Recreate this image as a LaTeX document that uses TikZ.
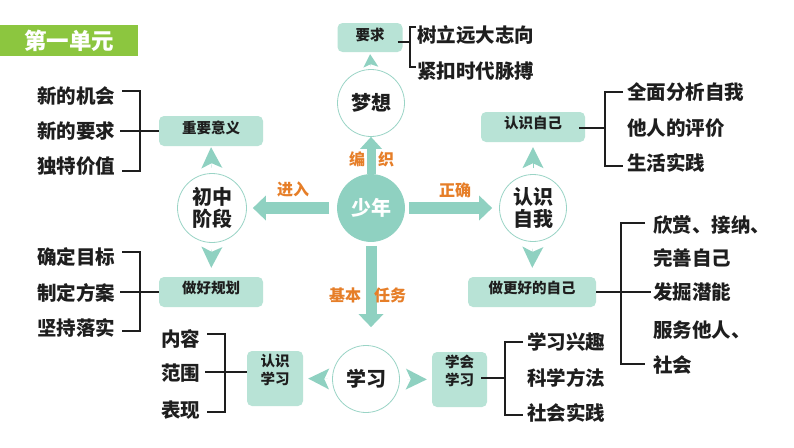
\documentclass[tikz,border=0pt]{standalone}
\usepackage{fontspec}
\setmainfont{Noto Sans CJK SC}[BoldFont={Noto Sans CJK SC Black}]
\usetikzlibrary{arrows.meta,calc}
\definecolor{mint}{HTML}{B8E3D6}
\definecolor{arr}{HTML}{8FD1C1}
\definecolor{cline}{HTML}{9AD4C6}
\definecolor{org}{HTML}{E67E28}
\definecolor{bgreen}{HTML}{8CC63F}
\definecolor{ink}{HTML}{1E1E1E}
\begin{document}
\begin{tikzpicture}[x=1pt,y=-1pt,
  mbox/.style={fill=mint, rounded corners=5pt, inner sep=0pt},
  boxtext/.style={font=\bfseries\fontsize{14.5}{18}\selectfont, text=ink, align=center, inner sep=0pt},
  wcirc/.style={circle, draw=cline, line width=0.8pt, fill=white, minimum size=67pt, inner sep=0pt, font=\bfseries\fontsize{20}{22}\selectfont, text=ink, align=center},
  item/.style={font=\bfseries\fontsize{19.5}{20}\selectfont, text=ink, inner sep=0pt, anchor=west},
  olab/.style={font=\bfseries\fontsize{16}{16}\selectfont, text=org, inner sep=0pt},
  brk/.style={draw=ink, line width=1.2pt},
  bigarr/.style={draw=arr, line width=12pt, -{Triangle[width=25pt,length=13pt,line width=0pt]}},
  tri/.style={draw=arr, line width=0.1pt, -{Stealth[width=21pt,length=21pt,inset=5pt,line width=0pt]}},
]
\fill[white] (0,0) rectangle (794,447);
\useasboundingbox (0,0) rectangle (794,447);

\node[fill=bgreen, minimum width=138pt, minimum height=31pt, inner sep=0pt, anchor=north west, text=white, font=\bfseries\fontsize{22.5}{22}\selectfont] (unit) at (0,25) {第一单元};

% circles
\node[wcirc] (meng) at (371,103) {梦想};
\node[wcirc, fill=arr, draw=arr, text=white] (shao) at (371,208) {少年};
\node[wcirc, minimum size=69pt] (chu) at (212,208) {初中\\阶段};
\node[wcirc] (rzwo) at (533,208) {认识\\自我};
\node[wcirc] (xuexi) at (366,379) {学习};

% boxes
\node[mbox, minimum width=65pt, minimum height=29pt, label={[boxtext,yshift=3pt]center:要求}] (yaoqiu) at (370,37.5) {};
\node[mbox, minimum width=104pt, minimum height=30pt, label={[boxtext,yshift=3.5pt]center:重要意义}] (zyyy) at (211,131) {};
\node[mbox, minimum width=104pt, minimum height=30pt, label={[boxtext,yshift=4pt]center:做好规划}] (zhgh) at (211,292) {};
\node[mbox, minimum width=56pt, minimum height=55pt, label={[boxtext,yshift=9pt]center:认识\\学习}] (rzxx) at (275,378.5) {};
\node[mbox, minimum width=55pt, minimum height=55pt, label={[boxtext,yshift=9pt]center:学会\\学习}] (xhxx) at (459.5,379.5) {};
\node[mbox, minimum width=104pt, minimum height=30pt, label={[boxtext,yshift=4.5pt]center:认识自己}] (rzzj) at (533,127) {};
\node[mbox, minimum width=128pt, minimum height=30pt, label={[boxtext,yshift=4pt]center:做更好的自己}] (zght) at (532,292) {};

% items
\node[item] (sl) at (417,35) {树立远大志向};
\node[item] (jk) at (417,71) {紧扣时代脉搏};
\node[item] (xjh) at (37,96) {新的机会};
\node[item] (xyq) at (37,131) {新的要求};
\node[item] (dtj) at (37,166) {独特价值};
\node[item] (qdmb) at (37,257) {确定目标};
\node[item] (zdfa) at (37,293) {制定方案};
\node[item] (jcls) at (37,328) {坚持落实};
\node[item] (nr) at (161,339) {内容};
\node[item] (fw) at (161,373) {范围};
\node[item] (bx) at (161,410) {表现};
\node[item] (xqxq) at (527,342) {学习兴趣};
\node[item] (kxff) at (527,378) {科学方法};
\node[item] (shsj) at (527,413) {社会实践};
\node[item] (qmfx) at (627,92) {全面分析自我};
\node[item] (trpj) at (627,128) {他人的评价};
\node[item] (shsj2) at (627,163) {生活实践};
\node[item] (xs) at (653,225) {欣赏、接纳、};
\node[item] (ws) at (653,258) {完善自己};
\node[item] (fj) at (653,292) {发掘潜能};
\node[item] (fw2) at (653,330) {服务他人、};
\node[item] (sh) at (653,365) {社会};

% brackets
\coordinate (b1) at (410,42);
\draw[brk] ([xshift=-5pt,yshift=-4.5pt]yaoqiu.east) -- (b1);
\draw[brk] (416,27) -| (b1) |- (416,67);
\coordinate (b2) at (140,131);
\draw[brk] (122,91) -| (b2) |- (122,171);
\draw[brk] ([xshift=5pt]xyq.east) -- (zyyy.west);
\coordinate (b3) at (140,292);
\draw[brk] (122,252) -| (b3) |- (122,331);
\draw[brk] ([xshift=5pt]zdfa.east |- b3) -- (zhgh.west);
\coordinate (b4) at (225,372);
\draw[brk] (207,334) -| (b4) |- (207,412);
\draw[brk] (205,372) -- (247,372);
\coordinate (b5) at (505,378);
\draw[brk] ([xshift=-6pt]xhxx.east |- b5) -- (b5);
\draw[brk] (523,342) -| (b5) |- (523,415);
\coordinate (b6) at (605,128);
\draw[brk] ([xshift=-6pt]rzzj.east |- b6) -- (b6);
\draw[brk] (623,92) -| (b6) |- (623,166);
\coordinate (b7) at (621,292);
\draw[brk] (zght.east) -- ([xshift=-2pt]fj.west);
\draw[brk] (645,223) -| (b7) |- (645,364);

% big arrows
\draw[draw=arr, line width=9pt, -{Triangle[width=22pt,length=12pt,line width=0pt]}] (shao.north) -- (meng.south);
\draw[bigarr, shorten <=8pt, shorten >=6pt] (shao.west) -- (chu.east);
\draw[bigarr, shorten <=4pt, shorten >=7pt] (shao.east) -- (rzwo.west);
\draw[bigarr, line width=11pt, shorten <=4pt, shorten >=18pt] (shao.south) -- (shao.south |- xuexi.north);

% small triangles
\draw[draw=arr, line width=0.1pt, -{Stealth[width=15pt,length=13pt,inset=3pt,line width=0pt]}, shorten <=2.5pt, shorten >=2pt] (meng.north) -- (yaoqiu.south);
\draw[tri, shorten <=5.5pt, shorten >=1pt] (chu.north) -- (zyyy.south);
\draw[tri, shorten <=6.5pt, shorten >=9pt] (chu.south) -- (zhgh.north);
\draw[tri, shorten <=6pt, shorten >=5pt] (rzwo.north) -- (rzzj.south);
\draw[tri, shorten <=6.5pt, shorten >=9pt] (rzwo.south) -- (zght.north);
\draw[tri, shorten <=4.5pt, shorten >=5pt] (xuexi.west) -- (rzxx.east);
\draw[tri, shorten <=7.5pt, shorten >=5pt] (xuexi.east) -- (xhxx.west);

% orange labels
\node[olab] (bian) at (357,159) {编};
\node[olab] (zhi) at (386,159) {织};
\node[olab] (jinru) at (293,189) {进入};
\node[olab] (zhengque) at (455,190) {正确};
\node[olab] (jiben) at (345,295) {基本};
\node[olab] (renwu) at (390,295) {任务};
\end{tikzpicture}
\end{document}
